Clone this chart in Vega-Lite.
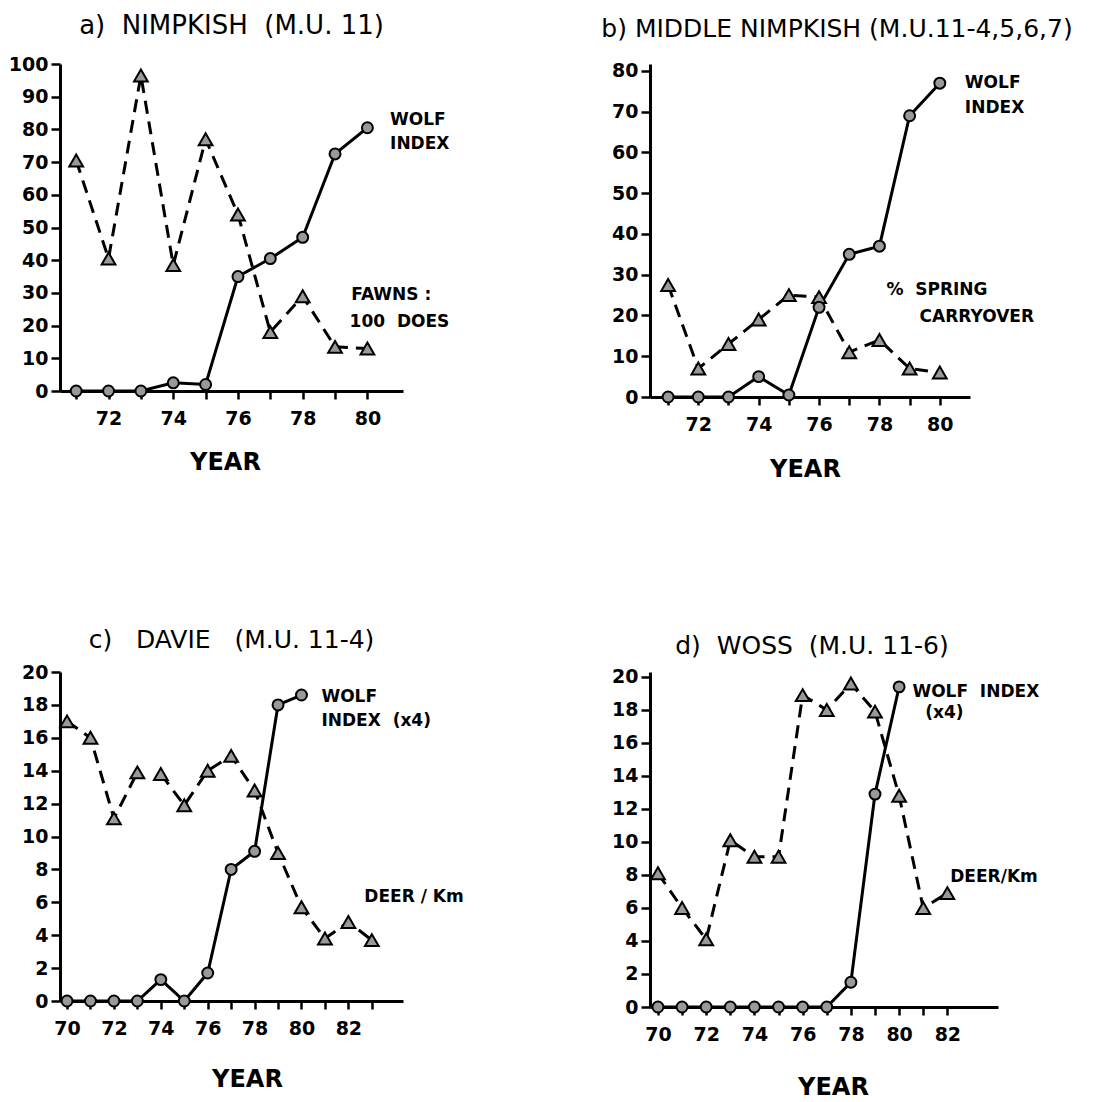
{
  "$schema": "https://vega.github.io/schema/vega-lite/v6.json",
  "background": "white",
  "padding": {"left": 8, "top": 13, "right": 5, "bottom": 5},
  "bounds": "flush",
  "columns": 2,
  "spacing": {"row": 275, "column": 247},
  "datasets": {
    "series": [
      {"panel": "a", "series": "wolf", "year": 71, "value": 0},
      {"panel": "a", "series": "wolf", "year": 72, "value": 0},
      {"panel": "a", "series": "wolf", "year": 73, "value": 0},
      {"panel": "a", "series": "wolf", "year": 74, "value": 2.5},
      {"panel": "a", "series": "wolf", "year": 75, "value": 2},
      {"panel": "a", "series": "wolf", "year": 76, "value": 35},
      {"panel": "a", "series": "wolf", "year": 77, "value": 40.5},
      {"panel": "a", "series": "wolf", "year": 78, "value": 47},
      {"panel": "a", "series": "wolf", "year": 79, "value": 72.5},
      {"panel": "a", "series": "wolf", "year": 80, "value": 80.5},
      {"panel": "a", "series": "deer", "seg": 1, "year": 71, "value": 70.5},
      {"panel": "a", "series": "deer", "seg": 1, "year": 72, "value": 40.5},
      {"panel": "a", "series": "deer", "seg": 1, "year": 73, "value": 96.5},
      {"panel": "a", "series": "deer", "seg": 1, "year": 74, "value": 38.5},
      {"panel": "a", "series": "deer", "seg": 1, "year": 75, "value": 77},
      {"panel": "a", "series": "deer", "seg": 1, "year": 76, "value": 54},
      {"panel": "a", "series": "deer", "seg": 1, "year": 77, "value": 18},
      {"panel": "a", "series": "deer", "seg": 1, "year": 78, "value": 29},
      {"panel": "a", "series": "deer", "seg": 1, "year": 79, "value": 13.5},
      {"panel": "a", "series": "deer", "seg": 1, "year": 80, "value": 13},
      {"panel": "b", "series": "wolf", "year": 71, "value": 0},
      {"panel": "b", "series": "wolf", "year": 72, "value": 0},
      {"panel": "b", "series": "wolf", "year": 73, "value": 0},
      {"panel": "b", "series": "wolf", "year": 74, "value": 5},
      {"panel": "b", "series": "wolf", "year": 75, "value": 0.5},
      {"panel": "b", "series": "wolf", "year": 76, "value": 22},
      {"panel": "b", "series": "wolf", "year": 77, "value": 35},
      {"panel": "b", "series": "wolf", "year": 78, "value": 37},
      {"panel": "b", "series": "wolf", "year": 79, "value": 69},
      {"panel": "b", "series": "wolf", "year": 80, "value": 77},
      {"panel": "b", "series": "deer", "seg": 1, "year": 71, "value": 27.5},
      {"panel": "b", "series": "deer", "seg": 1, "year": 72, "value": 7},
      {"panel": "b", "series": "deer", "seg": 1, "year": 73, "value": 13},
      {"panel": "b", "series": "deer", "seg": 1, "year": 74, "value": 19},
      {"panel": "b", "series": "deer", "seg": 1, "year": 75, "value": 25},
      {"panel": "b", "series": "deer", "seg": 1, "year": 76, "value": 24.5},
      {"panel": "b", "series": "deer", "seg": 1, "year": 77, "value": 11},
      {"panel": "b", "series": "deer", "seg": 1, "year": 78, "value": 14},
      {"panel": "b", "series": "deer", "seg": 1, "year": 79, "value": 7},
      {"panel": "b", "series": "deer", "seg": 1, "year": 80, "value": 6},
      {"panel": "c", "series": "wolf", "year": 70, "value": 0},
      {"panel": "c", "series": "wolf", "year": 71, "value": 0},
      {"panel": "c", "series": "wolf", "year": 72, "value": 0},
      {"panel": "c", "series": "wolf", "year": 73, "value": 0},
      {"panel": "c", "series": "wolf", "year": 74, "value": 1.3},
      {"panel": "c", "series": "wolf", "year": 75, "value": 0},
      {"panel": "c", "series": "wolf", "year": 76, "value": 1.7},
      {"panel": "c", "series": "wolf", "year": 77, "value": 8},
      {"panel": "c", "series": "wolf", "year": 78, "value": 9.1},
      {"panel": "c", "series": "wolf", "year": 79, "value": 18},
      {"panel": "c", "series": "wolf", "year": 80, "value": 18.6},
      {"panel": "c", "series": "deer", "seg": 1, "year": 70, "value": 17},
      {"panel": "c", "series": "deer", "seg": 1, "year": 71, "value": 16},
      {"panel": "c", "series": "deer", "seg": 1, "year": 72, "value": 11.1},
      {"panel": "c", "series": "deer", "seg": 1, "year": 73, "value": 13.9},
      {"panel": "c", "series": "deer", "seg": 2, "year": 74, "value": 13.8},
      {"panel": "c", "series": "deer", "seg": 2, "year": 75, "value": 11.9},
      {"panel": "c", "series": "deer", "seg": 2, "year": 76, "value": 14},
      {"panel": "c", "series": "deer", "seg": 2, "year": 77, "value": 14.9},
      {"panel": "c", "series": "deer", "seg": 2, "year": 78, "value": 12.8},
      {"panel": "c", "series": "deer", "seg": 2, "year": 79, "value": 9},
      {"panel": "c", "series": "deer", "seg": 2, "year": 80, "value": 5.7},
      {"panel": "c", "series": "deer", "seg": 2, "year": 81, "value": 3.8},
      {"panel": "c", "series": "deer", "seg": 2, "year": 82, "value": 4.8},
      {"panel": "c", "series": "deer", "seg": 2, "year": 83, "value": 3.7},
      {"panel": "d", "series": "wolf", "year": 70, "value": 0},
      {"panel": "d", "series": "wolf", "year": 71, "value": 0},
      {"panel": "d", "series": "wolf", "year": 72, "value": 0},
      {"panel": "d", "series": "wolf", "year": 73, "value": 0},
      {"panel": "d", "series": "wolf", "year": 74, "value": 0},
      {"panel": "d", "series": "wolf", "year": 75, "value": 0},
      {"panel": "d", "series": "wolf", "year": 76, "value": 0},
      {"panel": "d", "series": "wolf", "year": 77, "value": 0},
      {"panel": "d", "series": "wolf", "year": 78, "value": 1.5},
      {"panel": "d", "series": "wolf", "year": 79, "value": 12.9},
      {"panel": "d", "series": "wolf", "year": 80, "value": 19.4},
      {"panel": "d", "series": "deer", "seg": 1, "year": 70, "value": 8.1},
      {"panel": "d", "series": "deer", "seg": 1, "year": 71, "value": 6},
      {"panel": "d", "series": "deer", "seg": 1, "year": 72, "value": 4.1},
      {"panel": "d", "series": "deer", "seg": 1, "year": 73, "value": 10.1},
      {"panel": "d", "series": "deer", "seg": 1, "year": 74, "value": 9.1},
      {"panel": "d", "series": "deer", "seg": 1, "year": 75, "value": 9.1},
      {"panel": "d", "series": "deer", "seg": 1, "year": 76, "value": 18.9},
      {"panel": "d", "series": "deer", "seg": 1, "year": 77, "value": 18},
      {"panel": "d", "series": "deer", "seg": 1, "year": 78, "value": 19.6},
      {"panel": "d", "series": "deer", "seg": 1, "year": 79, "value": 17.9},
      {"panel": "d", "series": "deer", "seg": 1, "year": 80, "value": 12.8},
      {"panel": "d", "series": "deer", "seg": 1, "year": 81, "value": 6},
      {"panel": "d", "series": "deer", "seg": 1, "year": 82, "value": 6.9}
    ],
    "notes": [
      {"panel": "a", "year": 80.7, "value": 83, "text": "WOLF"},
      {"panel": "a", "year": 80.7, "value": 75.5, "text": "INDEX"},
      {"panel": "a", "year": 79.5, "value": 29.4, "text": "FAWNS :"},
      {"panel": "a", "year": 79.45, "value": 21, "text": "100\u00a0\u00a0DOES"},
      {"panel": "b", "year": 80.83, "value": 77, "text": "WOLF"},
      {"panel": "b", "year": 80.83, "value": 70.9, "text": "INDEX"},
      {"panel": "b", "year": 78.23, "value": 26.3, "text": "%\u00a0\u00a0SPRING"},
      {"panel": "b", "year": 79.33, "value": 19.7, "text": "CARRYOVER"},
      {"panel": "c", "year": 80.85, "value": 18.5, "text": "WOLF"},
      {"panel": "c", "year": 80.85, "value": 17, "text": "INDEX\u00a0\u00a0(x4)"},
      {"panel": "c", "year": 82.68, "value": 6.3, "text": "DEER / Km"},
      {"panel": "d", "year": 80.55, "value": 19.1, "text": "WOLF\u00a0\u00a0INDEX"},
      {"panel": "d", "year": 81.08, "value": 17.8, "text": "(x4)"},
      {"panel": "d", "year": 82.12, "value": 7.9, "text": "DEER/Km"}
    ]
  },
  "concat": [
    {
      "title": {"text": "a)\u00a0 NIMPKISH\u00a0 (M.U. 11)", "offset": 16, "fontSize": 26},
      "width": 343,
      "height": 327,
      "encoding": {
        "x": {"field": "year", "type": "quantitative", "scale": {"domain": [70.5, 81.1], "nice": false, "zero": false},
          "axis": {"title": "YEAR", "titleX": 165, "values": [71, 72, 73, 74, 75, 76, 77, 78, 79, 80], "format": "d", "labelExpr": "datum.value % 2 === 0 ? datum.label : ''", "titlePadding": 22}},
        "y": {"field": "value", "type": "quantitative", "scale": {"domain": [0, 100], "nice": false},
          "axis": {"title": null, "values": [0, 10, 20, 30, 40, 50, 60, 70, 80, 90, 100]}}
      },
      "layer": [
        {"data": {"name": "series"}, "transform": [{"filter": "datum.panel == 'a' && datum.series == 'deer'"}],
          "mark": {"type": "line", "color": "black", "strokeWidth": 3, "strokeDash": [13, 8]}, "encoding": {"detail": {"field": "seg"}}},
        {"data": {"name": "series"}, "transform": [{"filter": "datum.panel == 'a' && datum.series == 'wolf'"}],
          "mark": {"type": "line", "color": "black", "strokeWidth": 3}, "encoding": {}},
        {"data": {"name": "series"}, "transform": [{"filter": "datum.panel == 'a' && datum.series == 'deer'"}],
          "mark": {"type": "point", "shape": "triangle-up", "filled": true, "fill": "#999999", "stroke": "black", "strokeWidth": 2, "size": 190, "opacity": 1}},
        {"data": {"name": "series"}, "transform": [{"filter": "datum.panel == 'a' && datum.series == 'wolf'"}],
          "mark": {"type": "point", "shape": "circle", "filled": true, "fill": "#999999", "stroke": "black", "strokeWidth": 2, "size": 120, "opacity": 1}},
        {"data": {"name": "notes"}, "transform": [{"filter": "datum.panel == 'a'"}],
          "mark": {"type": "text", "align": "left", "baseline": "middle", "fontSize": 17, "fontWeight": "bold", "color": "black"}, "encoding": {"text": {"field": "text"}}}
      ]
    },
    {
      "title": {"text": "b) MIDDLE NIMPKISH (M.U.11-4,5,6,7)", "offset": 20, "dx": 27},
      "width": 320,
      "height": 333,
      "encoding": {
        "x": {"field": "year", "type": "quantitative", "scale": {"domain": [70.4, 81], "nice": false, "zero": false},
          "axis": {"title": "YEAR", "titleX": 155, "values": [71, 72, 73, 74, 75, 76, 77, 78, 79, 80], "format": "d", "labelExpr": "datum.value % 2 === 0 ? datum.label : ''", "titlePadding": 23}},
        "y": {"field": "value", "type": "quantitative", "scale": {"domain": [0, 81.7], "nice": false},
          "axis": {"title": null, "values": [0, 10, 20, 30, 40, 50, 60, 70, 80]}}
      },
      "layer": [
        {"data": {"name": "series"}, "transform": [{"filter": "datum.panel == 'b' && datum.series == 'deer'"}],
          "mark": {"type": "line", "color": "black", "strokeWidth": 3, "strokeDash": [13, 8]}, "encoding": {"detail": {"field": "seg"}}},
        {"data": {"name": "series"}, "transform": [{"filter": "datum.panel == 'b' && datum.series == 'wolf'"}],
          "mark": {"type": "line", "color": "black", "strokeWidth": 3}, "encoding": {}},
        {"data": {"name": "series"}, "transform": [{"filter": "datum.panel == 'b' && datum.series == 'deer'"}],
          "mark": {"type": "point", "shape": "triangle-up", "filled": true, "fill": "#999999", "stroke": "black", "strokeWidth": 2, "size": 190, "opacity": 1}},
        {"data": {"name": "series"}, "transform": [{"filter": "datum.panel == 'b' && datum.series == 'wolf'"}],
          "mark": {"type": "point", "shape": "circle", "filled": true, "fill": "#999999", "stroke": "black", "strokeWidth": 2, "size": 120, "opacity": 1}},
        {"data": {"name": "notes"}, "transform": [{"filter": "datum.panel == 'b'"}],
          "mark": {"type": "text", "align": "left", "baseline": "middle", "fontSize": 17, "fontWeight": "bold", "color": "black"}, "encoding": {"text": {"field": "text"}}}
      ]
    },
    {
      "title": {"text": "c)\u00a0\u00a0 DAVIE\u00a0\u00a0 (M.U. 11-4)", "offset": 10},
      "width": 343,
      "height": 329,
      "encoding": {
        "x": {"field": "year", "type": "quantitative", "scale": {"domain": [69.7, 84.33], "nice": false, "zero": false},
          "axis": {"title": "YEAR", "titleX": 187, "values": [70, 71, 72, 73, 74, 75, 76, 77, 78, 79, 80, 81, 82, 83], "format": "d", "labelExpr": "datum.value % 2 === 0 ? datum.label : ''", "titlePadding": 29}},
        "y": {"field": "value", "type": "quantitative", "scale": {"domain": [0, 20], "nice": false},
          "axis": {"title": null, "values": [0, 2, 4, 6, 8, 10, 12, 14, 16, 18, 20]}}
      },
      "layer": [
        {"data": {"name": "series"}, "transform": [{"filter": "datum.panel == 'c' && datum.series == 'deer'"}],
          "mark": {"type": "line", "color": "black", "strokeWidth": 3, "strokeDash": [13, 8]}, "encoding": {"detail": {"field": "seg"}}},
        {"data": {"name": "series"}, "transform": [{"filter": "datum.panel == 'c' && datum.series == 'wolf'"}],
          "mark": {"type": "line", "color": "black", "strokeWidth": 3}, "encoding": {}},
        {"data": {"name": "series"}, "transform": [{"filter": "datum.panel == 'c' && datum.series == 'deer'"}],
          "mark": {"type": "point", "shape": "triangle-up", "filled": true, "fill": "#999999", "stroke": "black", "strokeWidth": 2, "size": 190, "opacity": 1}},
        {"data": {"name": "series"}, "transform": [{"filter": "datum.panel == 'c' && datum.series == 'wolf'"}],
          "mark": {"type": "point", "shape": "circle", "filled": true, "fill": "#999999", "stroke": "black", "strokeWidth": 2, "size": 120, "opacity": 1}},
        {"data": {"name": "notes"}, "transform": [{"filter": "datum.panel == 'c'"}],
          "mark": {"type": "text", "align": "left", "baseline": "middle", "fontSize": 17, "fontWeight": "bold", "color": "black"}, "encoding": {"text": {"field": "text"}}}
      ]
    },
    {
      "title": {"text": "d)\u00a0 WOSS\u00a0 (M.U. 11-6)", "offset": 9, "dx": -12},
      "width": 348,
      "height": 335,
      "encoding": {
        "x": {"field": "year", "type": "quantitative", "scale": {"domain": [69.67, 84.1], "nice": false, "zero": false},
          "axis": {"title": "YEAR", "titleX": 183, "values": [70, 71, 72, 73, 74, 75, 76, 77, 78, 79, 80, 81, 82], "format": "d", "labelExpr": "datum.value % 2 === 0 ? datum.label : ''", "titlePadding": 31}},
        "y": {"field": "value", "type": "quantitative", "scale": {"domain": [0, 20.3], "nice": false},
          "axis": {"title": null, "values": [0, 2, 4, 6, 8, 10, 12, 14, 16, 18, 20]}}
      },
      "layer": [
        {"data": {"name": "series"}, "transform": [{"filter": "datum.panel == 'd' && datum.series == 'deer'"}],
          "mark": {"type": "line", "color": "black", "strokeWidth": 3, "strokeDash": [13, 8]}, "encoding": {"detail": {"field": "seg"}}},
        {"data": {"name": "series"}, "transform": [{"filter": "datum.panel == 'd' && datum.series == 'wolf'"}],
          "mark": {"type": "line", "color": "black", "strokeWidth": 3}, "encoding": {}},
        {"data": {"name": "series"}, "transform": [{"filter": "datum.panel == 'd' && datum.series == 'deer'"}],
          "mark": {"type": "point", "shape": "triangle-up", "filled": true, "fill": "#999999", "stroke": "black", "strokeWidth": 2, "size": 190, "opacity": 1}},
        {"data": {"name": "series"}, "transform": [{"filter": "datum.panel == 'd' && datum.series == 'wolf'"}],
          "mark": {"type": "point", "shape": "circle", "filled": true, "fill": "#999999", "stroke": "black", "strokeWidth": 2, "size": 120, "opacity": 1}},
        {"data": {"name": "notes"}, "transform": [{"filter": "datum.panel == 'd'"}],
          "mark": {"type": "text", "align": "left", "baseline": "middle", "fontSize": 17, "fontWeight": "bold", "color": "black"}, "encoding": {"text": {"field": "text"}}}
      ]
    }
  ],
  "config": {
    "view": {"stroke": null},
    "font": "DejaVu Sans",
    "text": {"font": "DejaVu Sans"},
    "axis": {"grid": false, "domainColor": "black", "domainWidth": 3, "tickColor": "black", "tickWidth": 2.5,
      "labelColor": "black", "labelFont": "DejaVu Sans", "labelFontSize": 19, "labelFontWeight": "bold", "titleFont": "DejaVu Sans", "titleFontSize": 24,
      "titleFontWeight": "bold", "titleColor": "black", "labelOverlap": false},
    "axisX": {"tickSize": 8, "labelPadding": 10},
    "axisY": {"tickSize": 9, "labelPadding": 3},
    "title": {"font": "DejaVu Sans", "fontSize": 25, "fontWeight": "normal", "color": "black"}
  }
}
